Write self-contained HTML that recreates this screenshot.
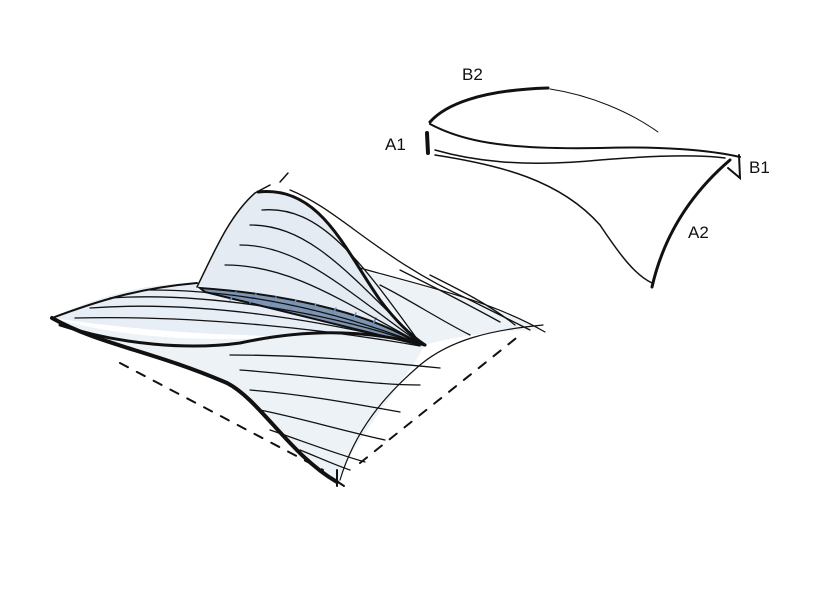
<!DOCTYPE html>
<html><head><style>html,body{margin:0;padding:0;background:#fff}svg{display:block}</style></head>
<body>
<svg width="818" height="614" viewBox="0 0 818 614" xmlns="http://www.w3.org/2000/svg" fill="none" stroke="#111" stroke-linecap="round">
<g font-family="Liberation Sans, sans-serif" font-size="17" fill="#111" stroke="none">
<text x="462" y="80">B2</text>
<text x="385" y="150">A1</text>
<text x="749" y="173">B1</text>
<text x="688" y="238">A2</text>
</g>
<path d="M430,122 C445,105 480,90 548,88" stroke-width="3"/>
<path d="M550,89 C590,95 630,112 658,132" stroke-width="1"/>
<path d="M430,124 C460,140 500,150 600,148 C660,146 710,150 740,157" stroke-width="2"/>
<path d="M435,150 C470,160 520,168 600,160 C660,155 700,155 725,158" stroke-width="1.5"/>
<path d="M435,155 C500,165 560,180 600,225 C620,255 635,275 652,283" stroke-width="1.5"/>
<path d="M730,160 C695,190 665,230 652,287" stroke-width="3"/>
<path d="M739,155 L740,178 L728,168" stroke-width="2"/>
<path d="M427,133 L428,153" stroke-width="4"/>

<path d="M255,193 C320,185 345,250 380,300 C395,320 410,335 425,345 C380,330 300,300 197,287 C215,250 230,215 255,193Z" fill="#e4ebf3" stroke="none"/>
<path d="M52,318 C110,290 170,280 200,285 C300,300 380,325 425,345 C330,330 240,345 52,318Z" fill="#e8eef5" stroke="none"/>
<path d="M52,318 C150,345 240,340 330,335 L425,345 C400,390 360,430 337,482 C300,460 260,400 227,383 C180,360 100,340 52,318Z" fill="#edf2f7" stroke="none"/>
<path d="M360,270 C420,285 480,300 543,330 C500,330 460,335 425,345 C400,320 380,300 360,270Z" fill="#edf2f7" stroke="none"/>
<path d="M200,288 C300,295 380,318 420,345 C360,330 300,315 205,292Z" fill="#7d95b3" stroke="#111" stroke-width="2"/>
<g stroke="#6f8db5" stroke-width="1.5">
<path d="M230,300 L236,292 M250,303 L256,294 M270,306 L276,297 M290,310 L296,300 M310,314 L316,304 M330,319 L336,308 M350,324 L356,313 M370,330 L376,318"/>
</g>

<g stroke-width="1.3">
<path d="M262,210 C320,205 360,260 420,343"/>
<path d="M250,225 C310,225 350,275 420,343"/>
<path d="M240,245 C300,245 345,290 420,343"/>
<path d="M225,265 C290,265 340,300 420,343"/>
<path d="M90,308 C200,300 320,320 420,345"/>
<path d="M75,318 C200,315 330,330 420,346"/>
<path d="M110,298 C200,292 320,310 420,344"/>
<path d="M150,290 C230,290 320,305 420,344"/>
<path d="M290,190 C340,210 380,260 470,300 C500,315 520,325 530,330"/>
<path d="M400,270 C430,285 460,300 500,322"/>
<path d="M380,285 C410,300 440,320 470,335"/>
<path d="M430,275 C460,290 490,305 515,325"/>
<path d="M230,355 C300,355 360,360 440,368"/>
<path d="M240,370 C310,375 370,385 420,385"/>
<path d="M250,390 C310,395 360,405 400,412"/>
<path d="M260,410 C300,418 340,430 385,440"/>
<path d="M270,430 C300,440 330,452 365,462"/>
<path d="M300,450 C320,458 335,465 350,470"/>
</g>
<path d="M197,287 C215,250 230,215 255,193 L270,185" stroke-width="1.5"/>
<path d="M258,192 C320,185 345,250 380,300 C395,320 410,335 425,345" stroke-width="3"/>
<path d="M52,318 C100,300 140,288 197,283" stroke-width="2"/>
<path d="M52,318 C100,345 150,350 227,383 C260,400 290,455 337,482" stroke-width="4"/>
<path d="M60,325 C120,345 190,350 240,343 C300,330 360,328 425,345" stroke-width="3"/>
<path d="M360,268 C420,285 490,300 545,332" stroke-width="1.2"/>
<path d="M543,325 C490,330 450,340 420,365 C385,395 355,430 340,480" stroke-width="1.2"/>
<path d="M280,182 L288,173" stroke-width="1.5"/>
<g stroke-width="2" stroke-dasharray="9,10">
<path d="M120,363 L323,470"/>
<path d="M360,463 L520,335"/>
</g>
<path d="M332,478 l12,8 M337,470 l0,16" stroke-width="2"/>
</svg>
</body></html>
